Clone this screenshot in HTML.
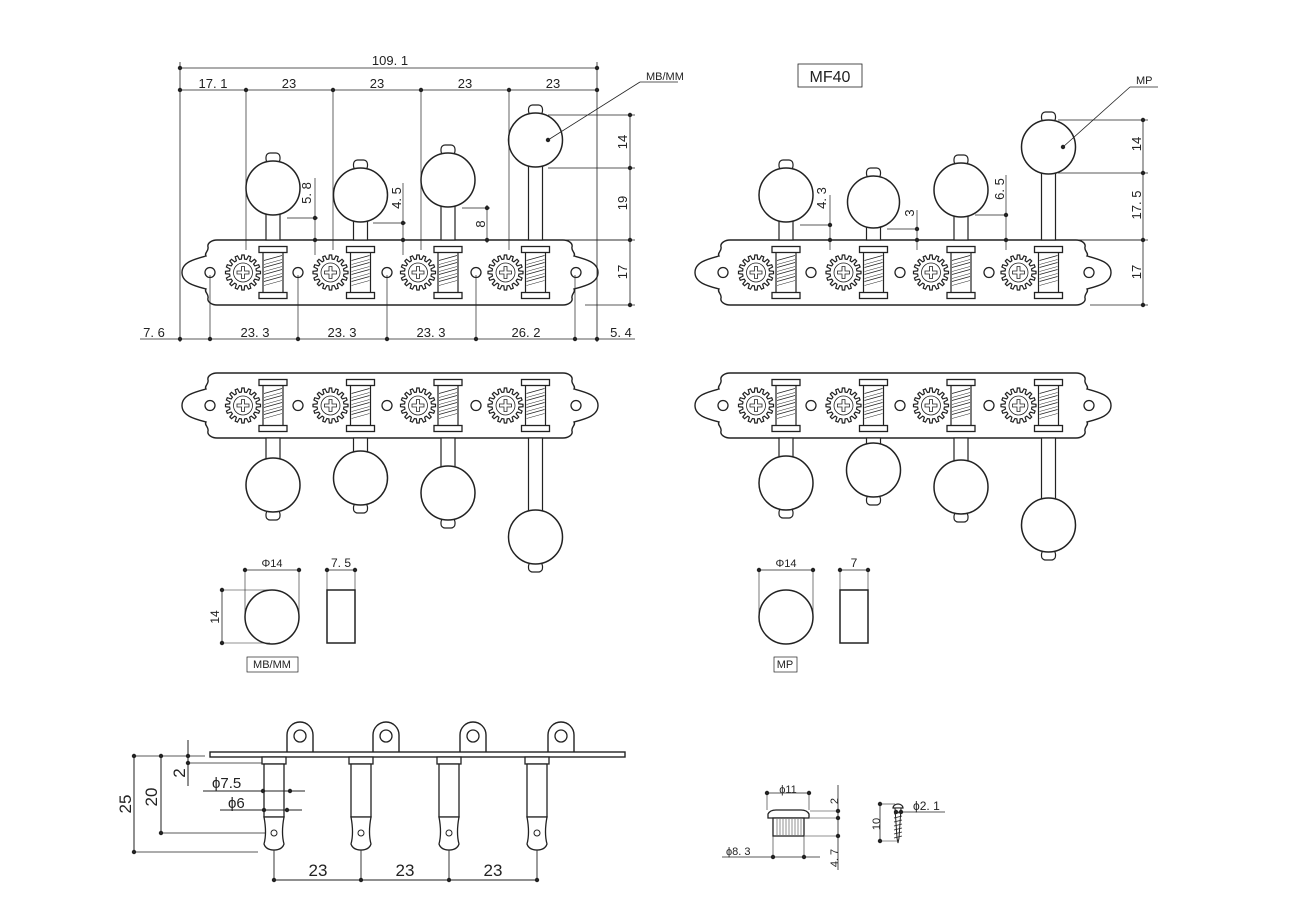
<!DOCTYPE html>
<html><head><meta charset="utf-8"><style>
html,body{margin:0;padding:0;background:#fff;}
svg{display:block;}
text{font-family:"Liberation Sans",sans-serif;fill:#222;}
</style></head><body>
<svg id="s" width="1300" height="900" viewBox="0 0 1300 900" xmlns="http://www.w3.org/2000/svg">
<g id="g" fill="none" stroke="#222" stroke-width="1"></g>
<g font-size="13">
<!-- top left texts -->
<text x="390" y="65" text-anchor="middle">109. 1</text>
<text x="213" y="88" text-anchor="middle">17. 1</text>
<text x="289" y="88" text-anchor="middle">23</text>
<text x="377" y="88" text-anchor="middle">23</text>
<text x="465" y="88" text-anchor="middle">23</text>
<text x="553" y="88" text-anchor="middle">23</text>
<text x="154" y="337" text-anchor="middle">7. 6</text>
<text x="255" y="337" text-anchor="middle">23. 3</text>
<text x="342" y="337" text-anchor="middle">23. 3</text>
<text x="431" y="337" text-anchor="middle">23. 3</text>
<text x="526" y="337" text-anchor="middle">26. 2</text>
<text x="621" y="337" text-anchor="middle">5. 4</text>
<text x="646" y="80" font-size="11">MB/MM</text>
<text transform="translate(627,142) rotate(-90)" text-anchor="middle">14</text>
<text transform="translate(627,203) rotate(-90)" text-anchor="middle">19</text>
<text transform="translate(627,272) rotate(-90)" text-anchor="middle">17</text>
<text transform="translate(311,193) rotate(-90)" text-anchor="middle">5. 8</text>
<text transform="translate(401,198) rotate(-90)" text-anchor="middle">4. 5</text>
<text transform="translate(485,224) rotate(-90)" text-anchor="middle">8</text>
<!-- top right texts -->
<text x="830" y="82" text-anchor="middle" font-size="16">MF40</text>
<text x="1136" y="84" font-size="11">MP</text>
<text transform="translate(1141,144) rotate(-90)" text-anchor="middle">14</text>
<text transform="translate(1141,205) rotate(-90)" text-anchor="middle">17. 5</text>
<text transform="translate(1141,272) rotate(-90)" text-anchor="middle">17</text>
<text transform="translate(826,198) rotate(-90)" text-anchor="middle">4. 3</text>
<text transform="translate(914,213) rotate(-90)" text-anchor="middle">3</text>
<text transform="translate(1004,189) rotate(-90)" text-anchor="middle">6. 5</text>
<!-- small buttons -->
<text x="272" y="567" text-anchor="middle" font-size="11">Φ14</text>
<text x="341" y="567" text-anchor="middle" font-size="12">7. 5</text>
<text transform="translate(219,617) rotate(-90)" text-anchor="middle" font-size="12">14</text>
<text x="272" y="668" text-anchor="middle" font-size="11">MB/MM</text>
<text x="786" y="567" text-anchor="middle" font-size="11">Φ14</text>
<text x="854" y="567" text-anchor="middle" font-size="12">7</text>
<text x="785" y="668" text-anchor="middle" font-size="11">MP</text>
<!-- bottom left -->
<text transform="translate(131,804) rotate(-90)" text-anchor="middle" font-size="17">25</text>
<text transform="translate(157,797) rotate(-90)" text-anchor="middle" font-size="17">20</text>
<text transform="translate(185,773) rotate(-90)" text-anchor="middle" font-size="17">2</text>
<text x="212" y="788" font-size="15">ϕ7.5</text>
<text x="228" y="808" font-size="15">ϕ6</text>
<text x="318" y="876" text-anchor="middle" font-size="17">23</text>
<text x="405" y="876" text-anchor="middle" font-size="17">23</text>
<text x="493" y="876" text-anchor="middle" font-size="17">23</text>
<!-- bottom right -->
<text x="788" y="793" text-anchor="middle" font-size="11">ϕ11</text>
<text transform="translate(838,801) rotate(-90)" text-anchor="middle" font-size="11">2</text>
<text x="726" y="855" font-size="11">ϕ8. 3</text>
<text transform="translate(838,858) rotate(-90)" text-anchor="middle" font-size="11">4. 7</text>
<text transform="translate(880,824) rotate(-90)" text-anchor="middle" font-size="11">10</text>
<text x="913" y="810" font-size="12">ϕ2. 1</text>
</g>
</svg>
<script>
var g=document.getElementById('g'),NS='http://www.w3.org/2000/svg';
function el(t,a){var e=document.createElementNS(NS,t);for(var k in a)e.setAttribute(k,a[k]);g.appendChild(e);return e;}
function L(x1,y1,x2,y2,w){el('line',{x1:x1,y1:y1,x2:x2,y2:y2,'stroke-width':w||0.8});}
function D(x,y){el('circle',{cx:x,cy:y,r:2.2,fill:'#222',stroke:'none'});}
function C(x,y,r,w){el('circle',{cx:x,cy:y,r:r,'stroke-width':w||1.4,fill:'#fff'});}
function R(x,y,w,h,sw){el('rect',{x:x,y:y,width:w,height:h,'stroke-width':sw||1.3,fill:'#fff'});}
function plate(xl,xr,y0,y1){
 var m=(y0+y1)/2,h=(y1-y0)/65;
 function P(s){return s;}
 var d='M'+xl+','+y0+' L'+xr+','+y0;
 // right end
 var f=function(sx,x,y){return (x)+','+(y);};
 var rs=[[ -5,0],[-10,3],[-10,7],[-7,12],[-10,16],[-27,22],[-35,32.5]];
 function endPath(x0,dir){
  var p='';
  p+=' C'+(x0+dir*5)+','+(y0)+' '+(x0+dir*10)+','+(y0+3)+' '+(x0+dir*9)+','+(y0+7);
  p+=' C'+(x0+dir*8)+','+(y0+11)+' '+(x0+dir*13)+','+(y0+13)+' '+(x0+dir*11)+','+(y0+16);
  p+=' C'+(x0+dir*22)+','+(y0+19)+' '+(x0+dir*35)+','+(y0+22)+' '+(x0+dir*35)+','+m;
  p+=' C'+(x0+dir*35)+','+(y1-22)+' '+(x0+dir*22)+','+(y1-19)+' '+(x0+dir*11)+','+(y1-16);
  p+=' C'+(x0+dir*13)+','+(y1-13)+' '+(x0+dir*8)+','+(y1-11)+' '+(x0+dir*9)+','+(y1-7);
  p+=' C'+(x0+dir*10)+','+(y1-3)+' '+(x0+dir*5)+','+(y1)+' '+x0+','+y1;
  return p;}
 d+=endPath(xr,1);
 d+=' L'+xl+','+y1;
 // left end going up
 var p='';var x0=xl,dir=-1;
 p+=' C'+(x0+dir*5)+','+(y1)+' '+(x0+dir*10)+','+(y1-3)+' '+(x0+dir*9)+','+(y1-7);
 p+=' C'+(x0+dir*8)+','+(y1-11)+' '+(x0+dir*13)+','+(y1-13)+' '+(x0+dir*11)+','+(y1-16);
 p+=' C'+(x0+dir*22)+','+(y1-19)+' '+(x0+dir*35)+','+(y1-22)+' '+(x0+dir*35)+','+m;
 p+=' C'+(x0+dir*35)+','+(y0+22)+' '+(x0+dir*22)+','+(y0+19)+' '+(x0+dir*11)+','+(y0+16);
 p+=' C'+(x0+dir*13)+','+(y0+13)+' '+(x0+dir*8)+','+(y0+11)+' '+(x0+dir*9)+','+(y0+7);
 p+=' C'+(x0+dir*10)+','+(y0+3)+' '+(x0+dir*5)+','+(y0)+' '+x0+','+y0+'Z';
 d+=p;
 el('path',{d:d,'stroke-width':1.4,fill:'#fff'});
 var hx=[xl-7,xl+81,xl+170,xl+259,xr+13];
 hx.forEach(function(x){C(x,m,5,1.3);});
}
function gear(cx,cy){
 var d='',n=16;
 for(var i=0;i<n;i++){var a=i*2*Math.PI/n;
  var pts=[[a-0.12,13.5],[a-0.07,17.5],[a+0.07,17.5],[a+0.12,13.5],[a+Math.PI/n*2-0.12,13.5]];
  pts.forEach(function(p,j){d+=(i==0&&j==0?'M':'L')+(cx+p[1]*Math.cos(p[0])).toFixed(1)+','+(cy+p[1]*Math.sin(p[0])).toFixed(1);});}
 el('path',{d:d+'Z','stroke-width':1.2,fill:'#fff'});
 C(cx,cy,9.5,0.8);
 el('path',{d:'M'+(cx-6)+','+(cy-1.5)+'h4.5v-4.5h3v4.5h4.5v3h-4.5v4.5h-3v-4.5h-4.5z','stroke-width':0.8});
}
function bushing(x,y0,y1){ // x left, caps
 R(x+4,y0+5,20,y1-y0-10,1.2);
 R(x,y0,28,6,1.3);R(x,y1-6,28,6,1.3);
 for(var k=0;k<4;k++){L(x+5,y0+14+k*7,x+23,y0+9+k*7,0.7);L(x+5,y0+18+k*7,x+23,y0+13+k*7,0.5);}
}
function row(dx,y0,y1,btns,flip){
 plate(217+dx,563+dx,y0,y1);
 var m=(y0+y1)/2;
 for(var i=0;i<4;i++){
  var bx=259+dx+i*87.5, gx=243+dx+i*87.5;
  var b=btns[i], sx=bx+14;
  // shaft
  if(!flip){R(sx-7,b[1]+b[2]-2,14,y0-(b[1]+b[2])+2,1.2);}
  else{R(sx-7,y1,14,b[1]-b[2]-y1+2,1.2);}
  gear(gx,m);
  bushing(bx,m-26,m+26);
  // button
  if(!flip){el('rect',{x:sx-7,y:b[1]-b[2]-8,width:14,height:10,rx:4,'stroke-width':1.2,fill:'#fff'});}
  else{el('rect',{x:sx-7,y:b[1]+b[2]-2,width:14,height:10,rx:4,'stroke-width':1.2,fill:'#fff'});}
  C(sx,b[1],b[2],1.5);
 }
}
var rL=[[272,188,27],[359,195,27],[447,180,27],[534,140,27]];
row(0,240,305,rL,false);
var rR=[[785,195,27],[873,202,26],[960,190,27],[1048,147,27]];
row(513,240,305,rR,false);
row(0,373,438,[[272,485,27],[359,478,27],[447,493,27],[534,537,27]],true);
row(513,373,438,[[785,483,27],[873,470,27],[960,487,27],[1048,525,27]],true);

// top-left dimensions
L(180,68,597,68);D(180,68);D(597,68);
L(180,90,597,90);[180,246,333,421,509,597].forEach(function(x){D(x,90);});
L(180,62,180,342);L(597,62,597,342);
[246,333,421,509].forEach(function(x){L(x,90,x,250,0.7);});
L(140,339,635,339);[180,210,298,387,476,575,597].forEach(function(x){D(x,339);});
[210,298,387,476,575].forEach(function(x){L(x,275,x,339,0.7);});
L(630,115,630,305);[115,168,240,305].forEach(function(y){D(630,y);});
L(548,115,635,115,0.7);L(548,168,635,168,0.7);L(563,240,635,240,0.7);L(585,305,635,305,0.7);
L(315,178,315,255,0.7);D(315,218);D(315,240);L(287,218,318,218,0.7);
L(403,183,403,255,0.7);D(403,223);D(403,240);L(373,223,406,223,0.7);
L(487,205,487,243,0.7);D(487,208);D(487,240);L(462,208,490,208,0.7);
L(303,240,630,240,0.7);
D(548,140);L(548,140,640,82,0.8);L(640,82,678,82,0.8);
// top-right dims
el('rect',{x:798,y:64,width:64,height:23,'stroke-width':0.8,fill:'none'});
L(1143,120,1143,305);[120,173,240,305].forEach(function(y){D(1143,y);});
L(1058,120,1148,120,0.7);L(1058,173,1148,173,0.7);L(1077,240,1148,240,0.7);L(1090,305,1148,305,0.7);
L(830,195,830,250,0.7);D(830,225);D(830,240);L(800,225,832,225,0.7);
L(917,210,917,250,0.7);D(917,229);D(917,240);L(887,229,919,229,0.7);
L(1006,175,1006,250,0.7);D(1006,215);D(1006,240);L(975,215,1008,215,0.7);
L(815,240,1143,240,0.7);
D(1063,147);L(1063,147,1130,87,0.8);L(1130,87,1158,87,0.8);

// small buttons
C(272,617,27,1.5);L(245,570,299,570);D(245,570);D(299,570);L(245,570,245,617,0.6);L(299,570,299,617,0.6);
L(222,590,222,643);D(222,590);D(222,643);L(222,590,270,590,0.6);L(222,643,270,643,0.6);
R(327,590,28,53,1.5);L(327,570,355,570);D(327,570);D(355,570);L(327,570,327,590,0.6);L(355,570,355,590,0.6);
el('rect',{x:247,y:657,width:51,height:15,'stroke-width':0.7,fill:'none'});
C(786,617,27,1.5);L(759,570,813,570);D(759,570);D(813,570);L(759,570,759,617,0.6);L(813,570,813,617,0.6);
R(840,590,28,53,1.5);L(840,570,868,570);D(840,570);D(868,570);L(840,570,840,590,0.6);L(868,570,868,590,0.6);
el('rect',{x:774,y:657,width:23,height:15,'stroke-width':0.7,fill:'none'});

// bottom-left side view
[300,386,473,561].forEach(function(x){
 el('path',{d:'M'+(x-13)+',752 L'+(x-13)+',735 A13,13 0 0 1 '+(x+13)+',735 L'+(x+13)+',752','stroke-width':1.4,fill:'#fff'});
 C(x,736,6,1.3);});
R(210,752,415,5,1.4);
[274,361,449,537].forEach(function(x){
 R(x-12,757,24,7,1.3);
 R(x-10,764,20,53,1.3);
 el('path',{d:'M'+(x-10)+',817 Q'+(x-7)+',833 '+(x-10)+',844 Q'+(x-8)+',850 '+x+',850 Q'+(x+8)+',850 '+(x+10)+',844 Q'+(x+7)+',833 '+(x+10)+',817 Z','stroke-width':1.3,fill:'#fff'});
 C(x,833,3,1);
 L(x,850,x,880,0.9);D(x,880);
});
L(274,880,537,880,1);
L(134,756,134,852,1);D(134,756);D(134,852);L(134,852,258,852,0.8);L(134,756,205,756,0.8);
L(161,756,161,833,1);D(161,756);D(161,833);L(161,833,265,833,0.8);
L(188,740,188,786,1);D(188,756);D(188,763);L(188,763,262,763,0.8);
L(203,791,305,791,0.9);D(263,791);D(290,791);
L(220,810,302,810,0.9);D(264,810);D(287,810);

// bottom-right parts
el('path',{d:'M768,818 L768,814 Q770,810 776,810 L801,810 Q807,810 809,814 L809,818 Z','stroke-width':1.3,fill:'#fff'});
R(773,818,31,18,1.3);
for(var x=777;x<802;x+=3)L(x,819,x,835,0.5);
L(767,793,809,793);D(767,793);D(809,793);L(767,793,767,810,0.6);L(809,793,809,810,0.6);
L(838,785,838,870,0.8);D(838,811);D(838,818);D(838,836);L(810,811,840,811,0.6);L(810,818,840,818,0.6);L(805,836,840,836,0.6);
L(722,857,820,857,0.8);D(773,857);D(804,857);L(773,836,773,857,0.6);L(804,836,804,857,0.6);
el('path',{d:'M893,808 A5,4 0 0 1 903,808 Z','stroke-width':1.2,fill:'#fff'});
el('path',{d:'M895,808 L901,808 L899,838 L898,843 L897,838 Z','stroke-width':1,fill:'#fff'});
for(var y=812;y<838;y+=4)L(894,y+2,902,y,0.7);
L(880,804,880,841,0.8);D(880,804);D(880,841);L(880,804,895,804,0.6);L(880,841,898,841,0.6);
L(896,812,945,812,0.7);D(896,812);D(901,812);
</script>
</body></html>
